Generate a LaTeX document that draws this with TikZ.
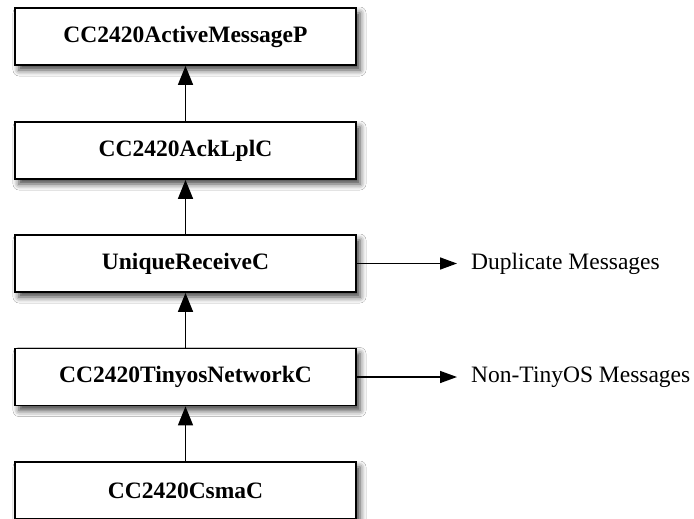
\documentclass[tikz,border=0pt]{standalone}
\usepackage{fontspec}
\setmainfont{Liberation Serif}
\usetikzlibrary{arrows.meta,shadows.blur}
\begin{document}
\begin{tikzpicture}[x=1pt,y=-1pt,
  comp/.style={draw=black, line width=1.8pt, fill=white, minimum width=341pt, minimum height=57pt,
    inner sep=0pt, font=\fontsize{23.5}{28}\selectfont\bfseries,
    blur shadow={shadow xshift=4pt, shadow yshift=-5pt, shadow blur radius=6pt, shadow opacity=75}},
  lbl/.style={anchor=west, inner sep=0pt, font=\fontsize{23.5}{28}\selectfont},
  flow/.style={line width=1.6pt, -{Triangle[length=19pt,width=15pt]}},
  side/.style={line width=1.5pt, -{Triangle[length=17pt,width=12pt]}}]
\useasboundingbox (0,0) rectangle (694,519);
\fill[white] (0,0) rectangle (694,519);
\node[comp] (am) at (185.5,36.5) {CC2420ActiveMessageP};
\node[comp] (ack) at (185.5,150.5) {CC2420AckLplC};
\node[comp] (uniq) at (185.5,263.5) {UniqueReceiveC};
\node[comp] (net) at (185.5,377) {CC2420TinyosNetworkC};
\node[comp] (csma) at (185.5,490.5) {CC2420CsmaC};
\draw[flow] (ack) -- (am);
\draw[flow] (uniq) -- (ack);
\draw[flow] (net) -- (uniq);
\draw[flow] (csma) -- (net);
\node[lbl] (dup) at (471,263.5) {Duplicate Messages};
\node[lbl] (non) at (471,377) {Non-TinyOS Messages};
\coordinate (dupt) at (457,263.5);
\coordinate (nont) at (457,377);
\draw[side] (uniq.east) -- (dupt);
\draw[side] (net.east) -- (nont);
\end{tikzpicture}
\end{document}
